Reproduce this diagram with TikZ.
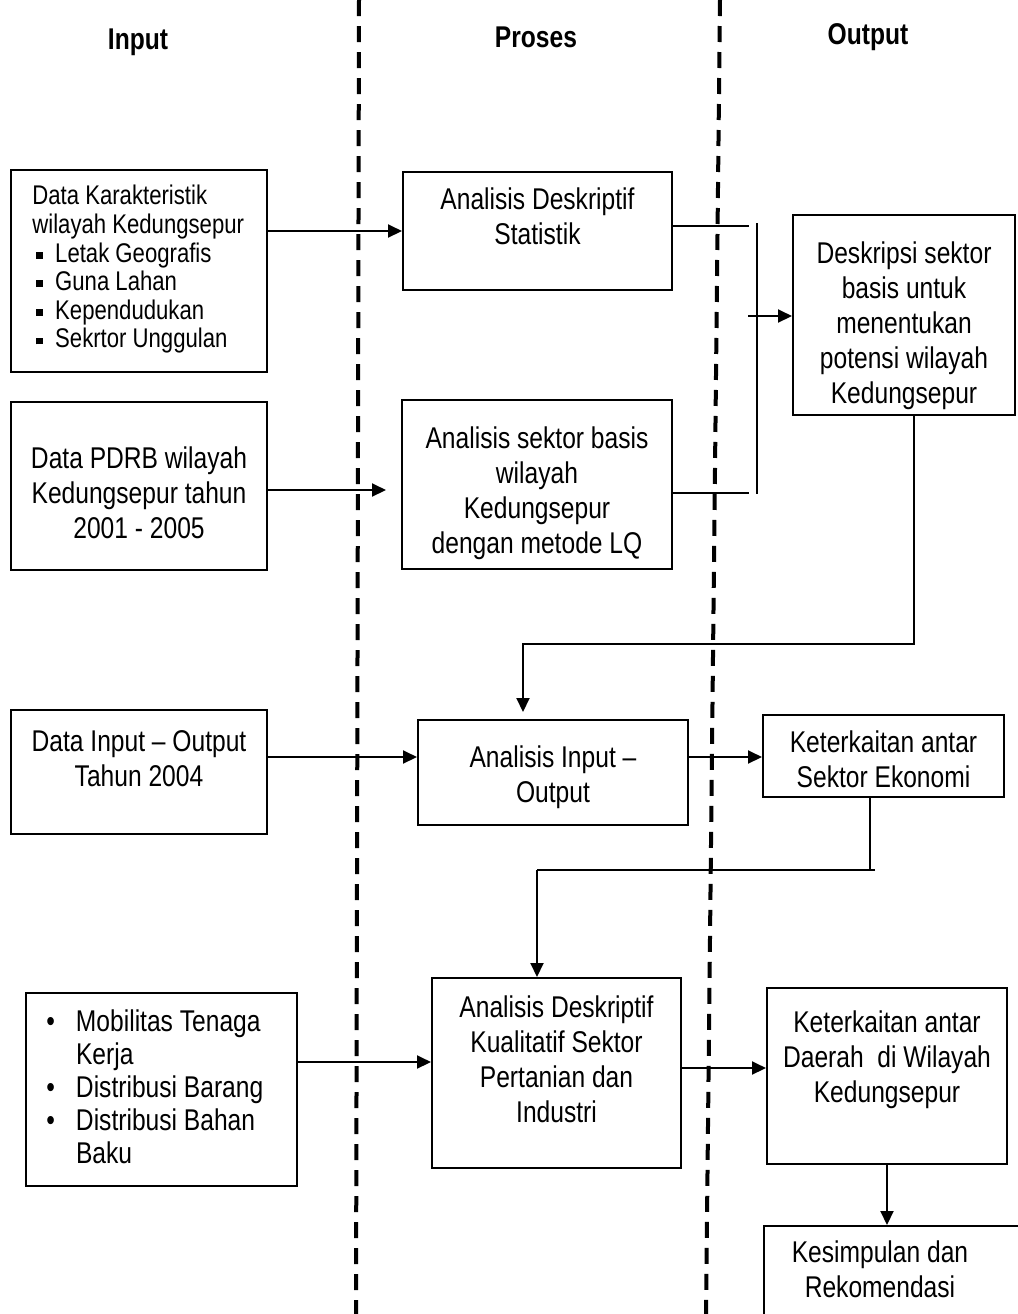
\documentclass[tikz,border=0pt]{standalone}
\usepackage{fontspec}
\setmainfont{Liberation Sans}[FakeStretch=0.82]
\usepackage{tikz}
\usetikzlibrary{positioning}
\usetikzlibrary{arrows.meta}

\newcommand{\sqbul}{\hspace*{2pt}\rule[1.8pt]{3.4pt}{3.4pt}\hspace*{6pt}}

\begin{document}
\begin{tikzpicture}[x=0.5pt, y=-0.5pt,
  box/.style={draw, line width=1pt, inner sep=0pt},
  txt/.style={align=center, inner sep=0pt, font=\fontsize{15}{17.5}\selectfont},
  smalltxt/.style={align=left, inner sep=0pt, font=\fontsize{13.5}{14.3}\selectfont},
  head/.style={inner sep=0pt, font=\fontsize{15}{17.5}\selectfont\bfseries},
  arr/.style={line width=1pt, -{Triangle[length=7pt, width=6.5pt]}},
  ln/.style={line width=1pt},
  sep/.style={line width=2pt, dash pattern=on 8pt off 5pt}]

\useasboundingbox (0,0) rectangle (1018,1314);
\clip (0,0) rectangle (1018,1314);

%column separators
\draw[sep] (359,0) -- (356,1314);
\draw[sep] (720,0) -- (706,1314);

%headers
\node[head] (hin) at (138,42) {Input};
\node[head] (hpro) at (536,37) {Proses};
\node[head] (hout) at (868,37) {Output};

%%%%%%% Input column %%%%%%%
\node[box, minimum width=128pt, minimum height=101pt] (kar) at (139,271) {};
\node[smalltxt, below right=8pt and 11pt of kar.north west] (karT)
  {Data Karakteristik\\wilayah Kedungsepur\\\sqbul Letak Geografis\\\sqbul Guna Lahan\\\sqbul Kependudukan\\\sqbul Sekrtor Unggulan};

\node[box, minimum width=128pt, minimum height=84pt] (pdrb) at (139,486) {};
\node[txt, below=22.5pt of pdrb.north] (pdrbT) {Data PDRB wilayah\\Kedungsepur tahun\\2001 - 2005};

\node[box, minimum width=128pt, minimum height=62pt] (dio) at (139,772) {};
\node[txt, below=10.5pt of dio.north] (dioT) {Data Input -- Output\\Tahun 2004};

\node[box, minimum width=135.5pt, minimum height=96.5pt] (mob) at (161.5,1089.5) {};
\node[txt, align=left, below right=8pt and 10.5pt of mob.north west, font=\fontsize{15}{16.5}\selectfont] (mobT)
  {\begin{tabular}{@{}l@{\hspace{10.5pt}}l@{}}
   \textbullet & Mobilitas Tenaga\\
               & Kerja\\
   \textbullet & Distribusi Barang\\
   \textbullet & Distribusi Bahan\\
               & Baku
   \end{tabular}};

%%%%%%% Proses column %%%%%%%
\node[box, minimum width=134.5pt, minimum height=59pt] (ads) at (537.5,231) {};
\node[txt, below=8pt of ads.north] (adsT) {Analisis Deskriptif\\Statistik};

\node[box, minimum width=135pt, minimum height=84.5pt] (lq) at (537,484.5) {};
\node[txt, below=13.5pt of lq.north] (lqT) {Analisis sektor basis\\wilayah\\Kedungsepur\\dengan metode LQ};

\node[box, minimum width=135pt, minimum height=52.5pt] (aio) at (553,772.5) {};
\node[txt, below=13pt of aio.north] (aioT) {Analisis Input --\\Output};

\node[box, minimum width=124.5pt, minimum height=95pt] (akq) at (556.5,1073) {};
\node[txt, below=9pt of akq.north] (akqT) {Analisis Deskriptif\\Kualitatif Sektor\\Pertanian dan\\Industri};

%%%%%%% Output column %%%%%%%
\node[box, minimum width=111pt, minimum height=100pt] (des) at (904,315) {};
\node[txt, below=13.5pt of des.north] (desT) {Deskripsi sektor\\basis untuk\\menentukan\\potensi wilayah\\Kedungsepur};

\node[box, minimum width=120.5pt, minimum height=41pt] (kse) at (883.5,756) {};
\node[txt, below=8pt of kse.north] (kseT) {Keterkaitan antar\\Sektor Ekonomi};

\node[box, minimum width=120pt, minimum height=88pt] (kad) at (887,1076) {};
\node[txt, below=11.5pt of kad.north] (kadT) {Keterkaitan antar\\Daerah\ \ di Wilayah\\Kedungsepur};

\node[box, minimum width=133pt, minimum height=57pt] (kes) at (897,1283) {};
\node[txt, anchor=north] (kesT) at (880,1240) {Kesimpulan dan\\Rekomendasi};

%%%%%%% connectors %%%%%%%
%row 1 and 2
\draw[arr] (kar.east |- ads.west) -- (ads.west);
\coordinate (lqin) at (386,490);
\draw[arr] (pdrb.east |- lqin) -- (lqin);

%bracket to Deskripsi
\coordinate (brx) at (749,0);
\coordinate (adsout) at ([yshift=2.5pt]ads.east);
\coordinate (lqout) at ([yshift=-4pt]lq.east);
\draw[ln] (adsout) -- (adsout -| brx);
\draw[ln] (lqout) -- (lqout -| brx);
\coordinate (brtop) at (757,223);
\coordinate (brbot) at (757,494);
\draw[ln] (brtop) -- (brbot);
\coordinate (brmid) at (748,316);
\draw[arr] (brmid) -- (brmid -| des.west);

%Deskripsi back to Analisis Input-Output
\coordinate (desout) at ([xshift=5pt]des.south);
\coordinate (turn1) at (523,644);
\coordinate (aioin) at (523,712);
\draw[arr] (desout) |- (turn1) -- (aioin);

%row 3
\coordinate (row3) at (0,757);
\draw[arr] (dio.east |- row3) -- (aio.west |- row3);
\draw[arr] (aio.east |- row3) -- (kse.west |- row3);

%Keterkaitan sektor to Analisis Kualitatif
\coordinate (kseout) at ([xshift=-7pt]kse.south);
\coordinate (hra) at (875,870);
\coordinate (hrb) at (537,870);
\draw[ln] (kseout) -- (kseout |- hra);
\draw[ln] (hra) -- (hrb);
\draw[arr] (hrb) -- (hrb |- akq.north);

%row 4
\coordinate (row4) at (0,1062);
\coordinate (row5) at (0,1068);
\draw[arr] (mob.east |- row4) -- (akq.west |- row4);
\draw[arr] (akq.east |- row5) -- (kad.west |- row5);
\draw[arr] (kad.south) -- (kad.south |- kes.north);

\end{tikzpicture}
\end{document}
